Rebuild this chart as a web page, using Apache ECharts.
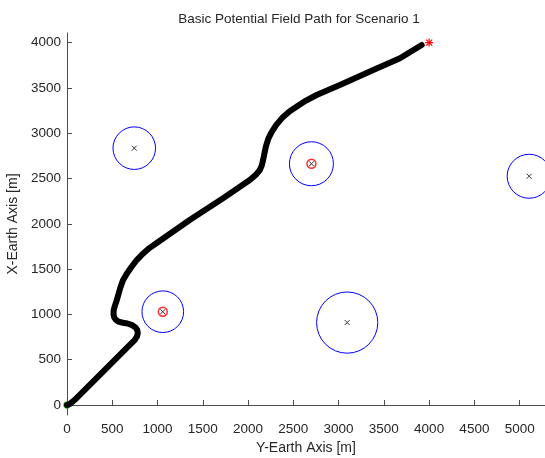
<!DOCTYPE html>
<html>
<head>
<meta charset="utf-8">
<script src="https://cdn.jsdelivr.net/npm/echarts@6/dist/echarts.min.js"></script>
<style>
  html, body { margin: 0; padding: 0; background: #fff; }
  #chart { width: 545px; height: 458px; }
</style>
</head>
<body>
<div id="chart"></div>
<script>
// Vehicle path (Y-Earth, X-Earth) in metres
const pathPoints = [
  [0, 0], [35, 15], [83, 55], [360, 331], [655, 626], [747, 717], [772, 755],
  [782, 792], [776, 828], [756, 857], [718, 882], [668, 900], [617, 908],
  [570, 920], [540, 940], [521, 968], [514, 1000], [516, 1049], [529, 1095],
  [548, 1150], [565, 1210], [588, 1292], [617, 1375], [660, 1450], [710, 1520],
  [770, 1600], [839, 1670], [910, 1732], [987, 1785], [1355, 2042], [1724, 2282],
  [2019, 2483], [2090, 2545], [2130, 2594], [2153, 2648], [2166, 2704],
  [2180, 2772], [2198, 2858], [2224, 2940], [2260, 3012], [2312, 3092],
  [2387, 3180], [2460, 3243], [2535, 3293], [2640, 3360], [2757, 3422],
  [3014, 3532], [3383, 3698], [3678, 3827], [3918, 3974]
];

// Obstacles: centre Y, centre X, radius (m)
const obstacleY = [743, 2700, 5105, 1058, 3095];
const obstacleX = [2835, 2663, 2525, 1030, 910];
const obstacleR = [235, 243, 243, 230, 338];

// Targets marked on top of obstacles
const targets = [[2700, 2663], [1058, 1030]];

const startPoint = [0, 0];
const goalPoint = [4000, 4000];

const xTicks = [0, 500, 1000, 1500, 2000, 2500, 3000, 3500, 4000, 4500, 5000];
const yTicks = [0, 500, 1000, 1500, 2000, 2500, 3000, 3500, 4000];

const obstacles = obstacleY.map((y, i) => [y, obstacleX[i], obstacleR[i]]);

const font = '"Liberation Sans", Arial, Helvetica, sans-serif';
const axisColor = '#4d4d4d';
const textColor = '#262626';
const plain = v => String(v);

const chart = echarts.init(document.getElementById('chart'), null, { renderer: 'canvas' });

chart.setOption({
  animation: false,
  backgroundColor: '#fff',
  title: {
    text: 'Basic Potential Field Path for Scenario 1',
    left: 294, top: 7, textAlign: 'center',
    textStyle: { fontFamily: font, fontSize: 13.5, fontWeight: 'normal', color: textColor }
  },
  grid: { left: 67, top: 33, right: 0, bottom: 43, containLabel: false, outerBoundsMode: 'none' },
  xAxis: {
    type: 'value', min: 0, max: 5280,
    name: 'Y-Earth Axis [m]', nameLocation: 'middle', nameGap: 26,
    nameTextStyle: { fontFamily: font, fontSize: 14, color: textColor },
    axisLine: { show: true, lineStyle: { color: axisColor, width: 1 } },
    axisTick: { show: true, inside: true, length: 5, customValues: xTicks, lineStyle: { color: axisColor } },
    axisLabel: { customValues: xTicks, formatter: plain, fontFamily: font, fontSize: 13.5, color: textColor, margin: 7 },
    splitLine: { show: false }
  },
  yAxis: {
    type: 'value', min: -110, max: 4106,
    name: 'X-Earth Axis [m]', nameLocation: 'middle', nameGap: 46, nameRotate: 90,
    nameTextStyle: { fontFamily: font, fontSize: 14, color: textColor },
    axisLine: { show: true, lineStyle: { color: axisColor, width: 1 } },
    axisTick: { show: true, inside: true, length: 5, customValues: yTicks, lineStyle: { color: axisColor } },
    axisLabel: { customValues: yTicks, formatter: plain, fontFamily: font, fontSize: 13.5, color: textColor, margin: 6 },
    splitLine: { show: false }
  },
  series: [
    {
      // obstacle influence circles with centre crosses
      type: 'custom',
      data: obstacles,
      renderItem: function (params, api) {
        const c = api.coord([api.value(0), api.value(1)]);
        const r = api.size([api.value(2), 0])[0];
        const s = 2.5;
        return {
          type: 'group',
          children: [
            { type: 'circle', shape: { cx: c[0], cy: c[1], r: r },
              style: { fill: 'none', stroke: '#0000ff', lineWidth: 1 } },
            { type: 'polyline', shape: { points: [[c[0] - s, c[1] - s], [c[0] + s, c[1] + s]] },
              style: { stroke: '#333', lineWidth: 1 } },
            { type: 'polyline', shape: { points: [[c[0] - s, c[1] + s], [c[0] + s, c[1] - s]] },
              style: { stroke: '#333', lineWidth: 1 } }
          ]
        };
      },
      z: 2
    },
    {
      type: 'scatter',
      data: targets,
      symbol: 'circle', symbolSize: 9,
      itemStyle: { color: 'transparent', borderColor: '#ff0000', borderWidth: 1.5 },
      z: 3
    },
    {
      type: 'line',
      data: pathPoints,
      showSymbol: false,
      smooth: false,
      lineStyle: { color: '#000', width: 6, cap: 'round', join: 'round' },
      z: 4
    },
    {
      type: 'scatter',
      data: [startPoint],
      symbol: 'circle', symbolSize: 6,
      itemStyle: { color: 'transparent', borderColor: '#00cc00', borderWidth: 1.5 },
      z: 3
    },
    {
      // goal marker drawn as an asterisk
      type: 'custom',
      data: [goalPoint],
      renderItem: function (params, api) {
        const c = api.coord([api.value(0), api.value(1)]);
        const s = 4, d = 3;
        const seg = (a, b) => ({ type: 'polyline', shape: { points: [a, b] },
          style: { stroke: '#ff0000', lineWidth: 1.2 } });
        return {
          type: 'group',
          children: [
            seg([c[0] - s, c[1]], [c[0] + s, c[1]]),
            seg([c[0], c[1] - s], [c[0], c[1] + s]),
            seg([c[0] - d, c[1] - d], [c[0] + d, c[1] + d]),
            seg([c[0] - d, c[1] + d], [c[0] + d, c[1] - d])
          ]
        };
      },
      z: 6
    }
  ]
});
</script>
</body>
</html>
